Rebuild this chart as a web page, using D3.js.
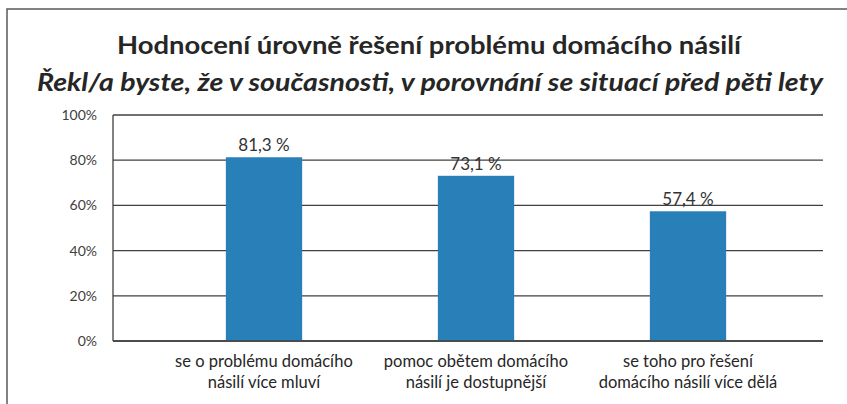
<!DOCTYPE html>
<html lang="cs">
<head>
<meta charset="UTF-8">
<title>Hodnocení úrovně řešení problému domácího násilí</title>
<script src="https://d3js.org/d3.v7.min.js"></script>
<style>
  body { margin: 0; background: #fff; }
  svg text { font-family: Lato, "Open Sans", sans-serif; fill: #262626; }
</style>
</head>
<body>
<svg id="chart" width="847" height="404"></svg>
<script>
// data
const categories = [
  ["se o problému domácího", "násilí více mluví"],
  ["pomoc obětem domácího", "násilí je dostupnější"],
  ["se toho pro řešení", "domácího násilí více dělá"]
];
const values = [81.3, 73.1, 57.4];
const yTicks = [0, 20, 40, 60, 80, 100];
const title = "Hodnocení úrovně řešení problému domácího násilí";
const subtitle = "Řekl/a byste, že v současnosti, v porovnání se situací před pěti lety";

const svg = d3.select("#chart");

// outer frame (cut off on the right and bottom)
svg.append("rect")
  .attr("x", 7).attr("y", 9).attr("width", 900).attr("height", 500)
  .attr("fill", "none").attr("stroke", "#595959").attr("stroke-width", 1.5);

// titles - squeezed to the width of the original (narrow font)
svg.append("text").attr("x", 429).attr("y", 54)
  .attr("text-anchor", "middle").style("font-weight", "bold").style("font-size", "25px")
  .attr("textLength", 624).attr("lengthAdjust", "spacingAndGlyphs")
  .text(title);

svg.append("text").attr("x", 430).attr("y", 91)
  .attr("text-anchor", "middle").style("font-weight", "bold").style("font-style", "italic")
  .style("font-size", "25px")
  .attr("textLength", 786).attr("lengthAdjust", "spacingAndGlyphs")
  .text(subtitle);

// scales
let plotLeft = 113, plotRight = 823, plotTop = 115, plotBottom = 341;
let y = d3.scaleLinear().domain([0, 100]).range([plotBottom, plotTop]);
let x = d3.scaleBand().domain(d3.range(categories.length))
  .range([158, 794]).paddingInner(0.64).paddingOuter(0.32);

// gridlines
svg.append("g").selectAll("line").data(yTicks).enter().append("line")
  .attr("x1", plotLeft).attr("x2", plotRight)
  .attr("y1", d => y(d)).attr("y2", d => y(d))
  .attr("stroke", "#404040").attr("stroke-width", 1.3);

// y axis line
svg.append("line")
  .attr("x1", plotLeft).attr("x2", plotLeft)
  .attr("y1", y(100)).attr("y2", y(0))
  .attr("stroke", "#404040").attr("stroke-width", 1.3);

// y tick labels
svg.append("g").selectAll("text").data(yTicks).enter().append("text")
  .attr("x", 97).attr("y", d => y(d) + 5)
  .attr("text-anchor", "end").style("font-size", "14px").style("fill", "#404040")
  .text(d => d + "%");

// bars
svg.append("g").selectAll("rect").data(values).enter().append("rect")
  .attr("x", (d, i) => x(i))
  .attr("width", x.bandwidth())
  .attr("y", d => y(d))
  .attr("height", d => y(0) - y(d))
  .attr("fill", "#2980b9");

// redraw base line over the bars
svg.append("line")
  .attr("x1", plotLeft).attr("x2", plotRight)
  .attr("y1", y(0)).attr("y2", y(0))
  .attr("stroke", "#404040").attr("stroke-width", 1.3);

// value labels
svg.append("g").selectAll("text").data(values).enter().append("text")
  .attr("x", (d, i) => x(i) + x.bandwidth() / 2)
  .attr("y", d => y(d) - 6)
  .attr("text-anchor", "middle").style("font-size", "17px").style("fill", "#333")
  .text(d => d3.format(".1f")(d).replace(".", ",") + " %");

// category labels
let catG = svg.append("g").selectAll("text").data(categories).enter().append("text")
  .attr("text-anchor", "middle").style("font-size", "16.5px").style("fill", "#262626");
catG.selectAll("tspan").data((d, i) => d.map(s => ({s: s, i: i}))).enter().append("tspan")
  .attr("x", d => x(d.i) + x.bandwidth() / 2)
  .attr("y", (d, j) => 367 + j * 21)
  .text(d => d.s);
</script>
</body>
</html>
